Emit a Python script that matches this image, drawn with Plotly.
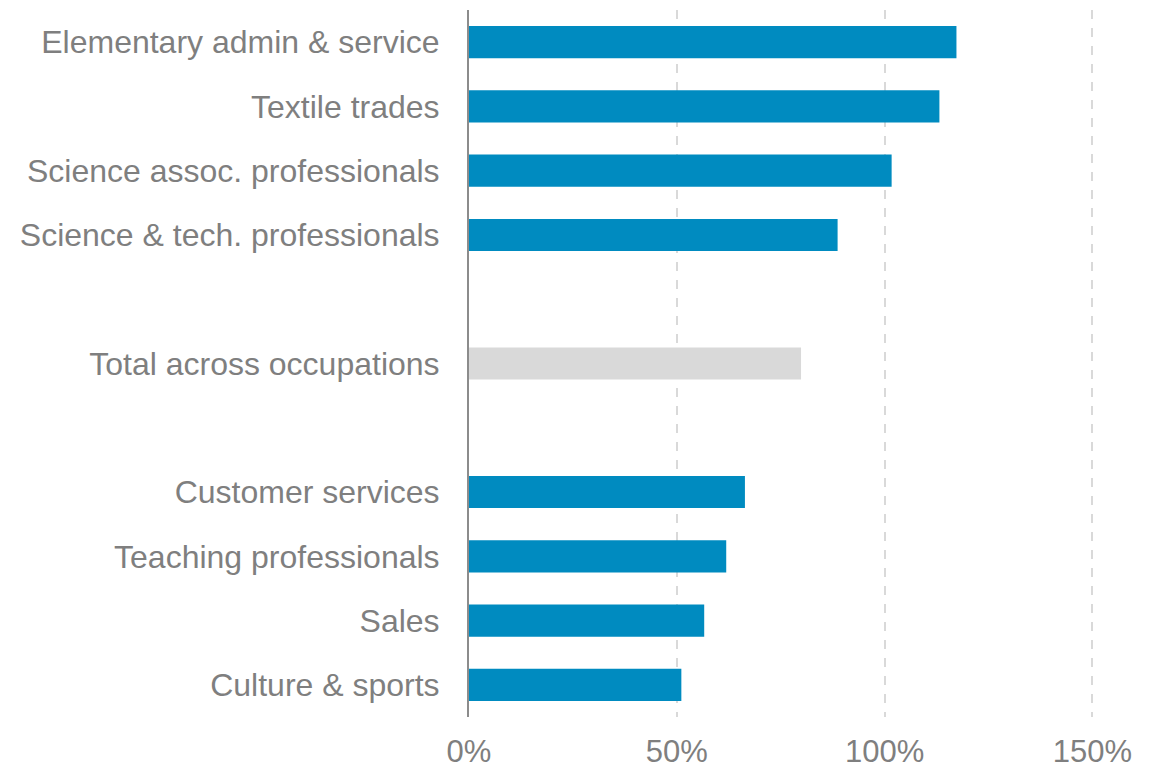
import plotly.graph_objects as go

# Occupation groups, top to bottom; blank entries are spacer rows
occupations = [
    "Elementary admin & service",
    "Textile trades",
    "Science assoc. professionals",
    "Science & tech. professionals",
    " ",
    "Total across occupations",
    "  ",
    "Customer services",
    "Teaching professionals",
    "Sales",
    "Culture & sports",
]
shares = [117.3, 113.2, 101.7, 88.7, None, 79.9, None, 66.4, 61.9, 56.6, 51.1]

x_ticks = [0, 50, 100, 150]
x_tick_labels = ["0%", "50%", "100%", "150%"]

BLUE = "#008BC0"
GREY_BAR = "#D9D9D9"
TEXT = "#7F7F7F"

bar_colors = [GREY_BAR if name.startswith("Total") else BLUE for name in occupations]

fig = go.Figure(
    go.Bar(
        x=shares,
        y=occupations,
        orientation="h",
        marker=dict(color=bar_colors, line=dict(width=0)),
        width=0.5,
        hoverinfo="skip",
    )
)

fig.update_layout(
    width=1158,
    height=770,
    margin=dict(l=469, r=0, t=10, b=53),
    paper_bgcolor="white",
    plot_bgcolor="white",
    showlegend=False,
    font=dict(family="Liberation Sans, Arial, sans-serif", size=32, color=TEXT),
)

fig.update_xaxes(
    range=[0, 165.8],
    tickvals=x_ticks,
    ticktext=x_tick_labels,
    showgrid=True,
    gridcolor="#D9D9D9",
    griddash="dash",
    gridwidth=1.5,
    zeroline=False,
    showline=False,
    ticks="outside",
    ticklen=7,
    tickcolor="rgba(0,0,0,0)",
    tickfont=dict(size=31, color=TEXT),
    automargin=False,
)

fig.update_yaxes(
    categoryorder="array",
    categoryarray=occupations[::-1],
    showgrid=False,
    zeroline=False,
    showline=True,
    linecolor="#8C8C8C",
    linewidth=2,
    ticks="outside",
    ticklen=21,
    tickcolor="rgba(0,0,0,0)",
    tickfont=dict(size=32, color=TEXT),
    automargin=False,
)

fig.write_html("out.html")
